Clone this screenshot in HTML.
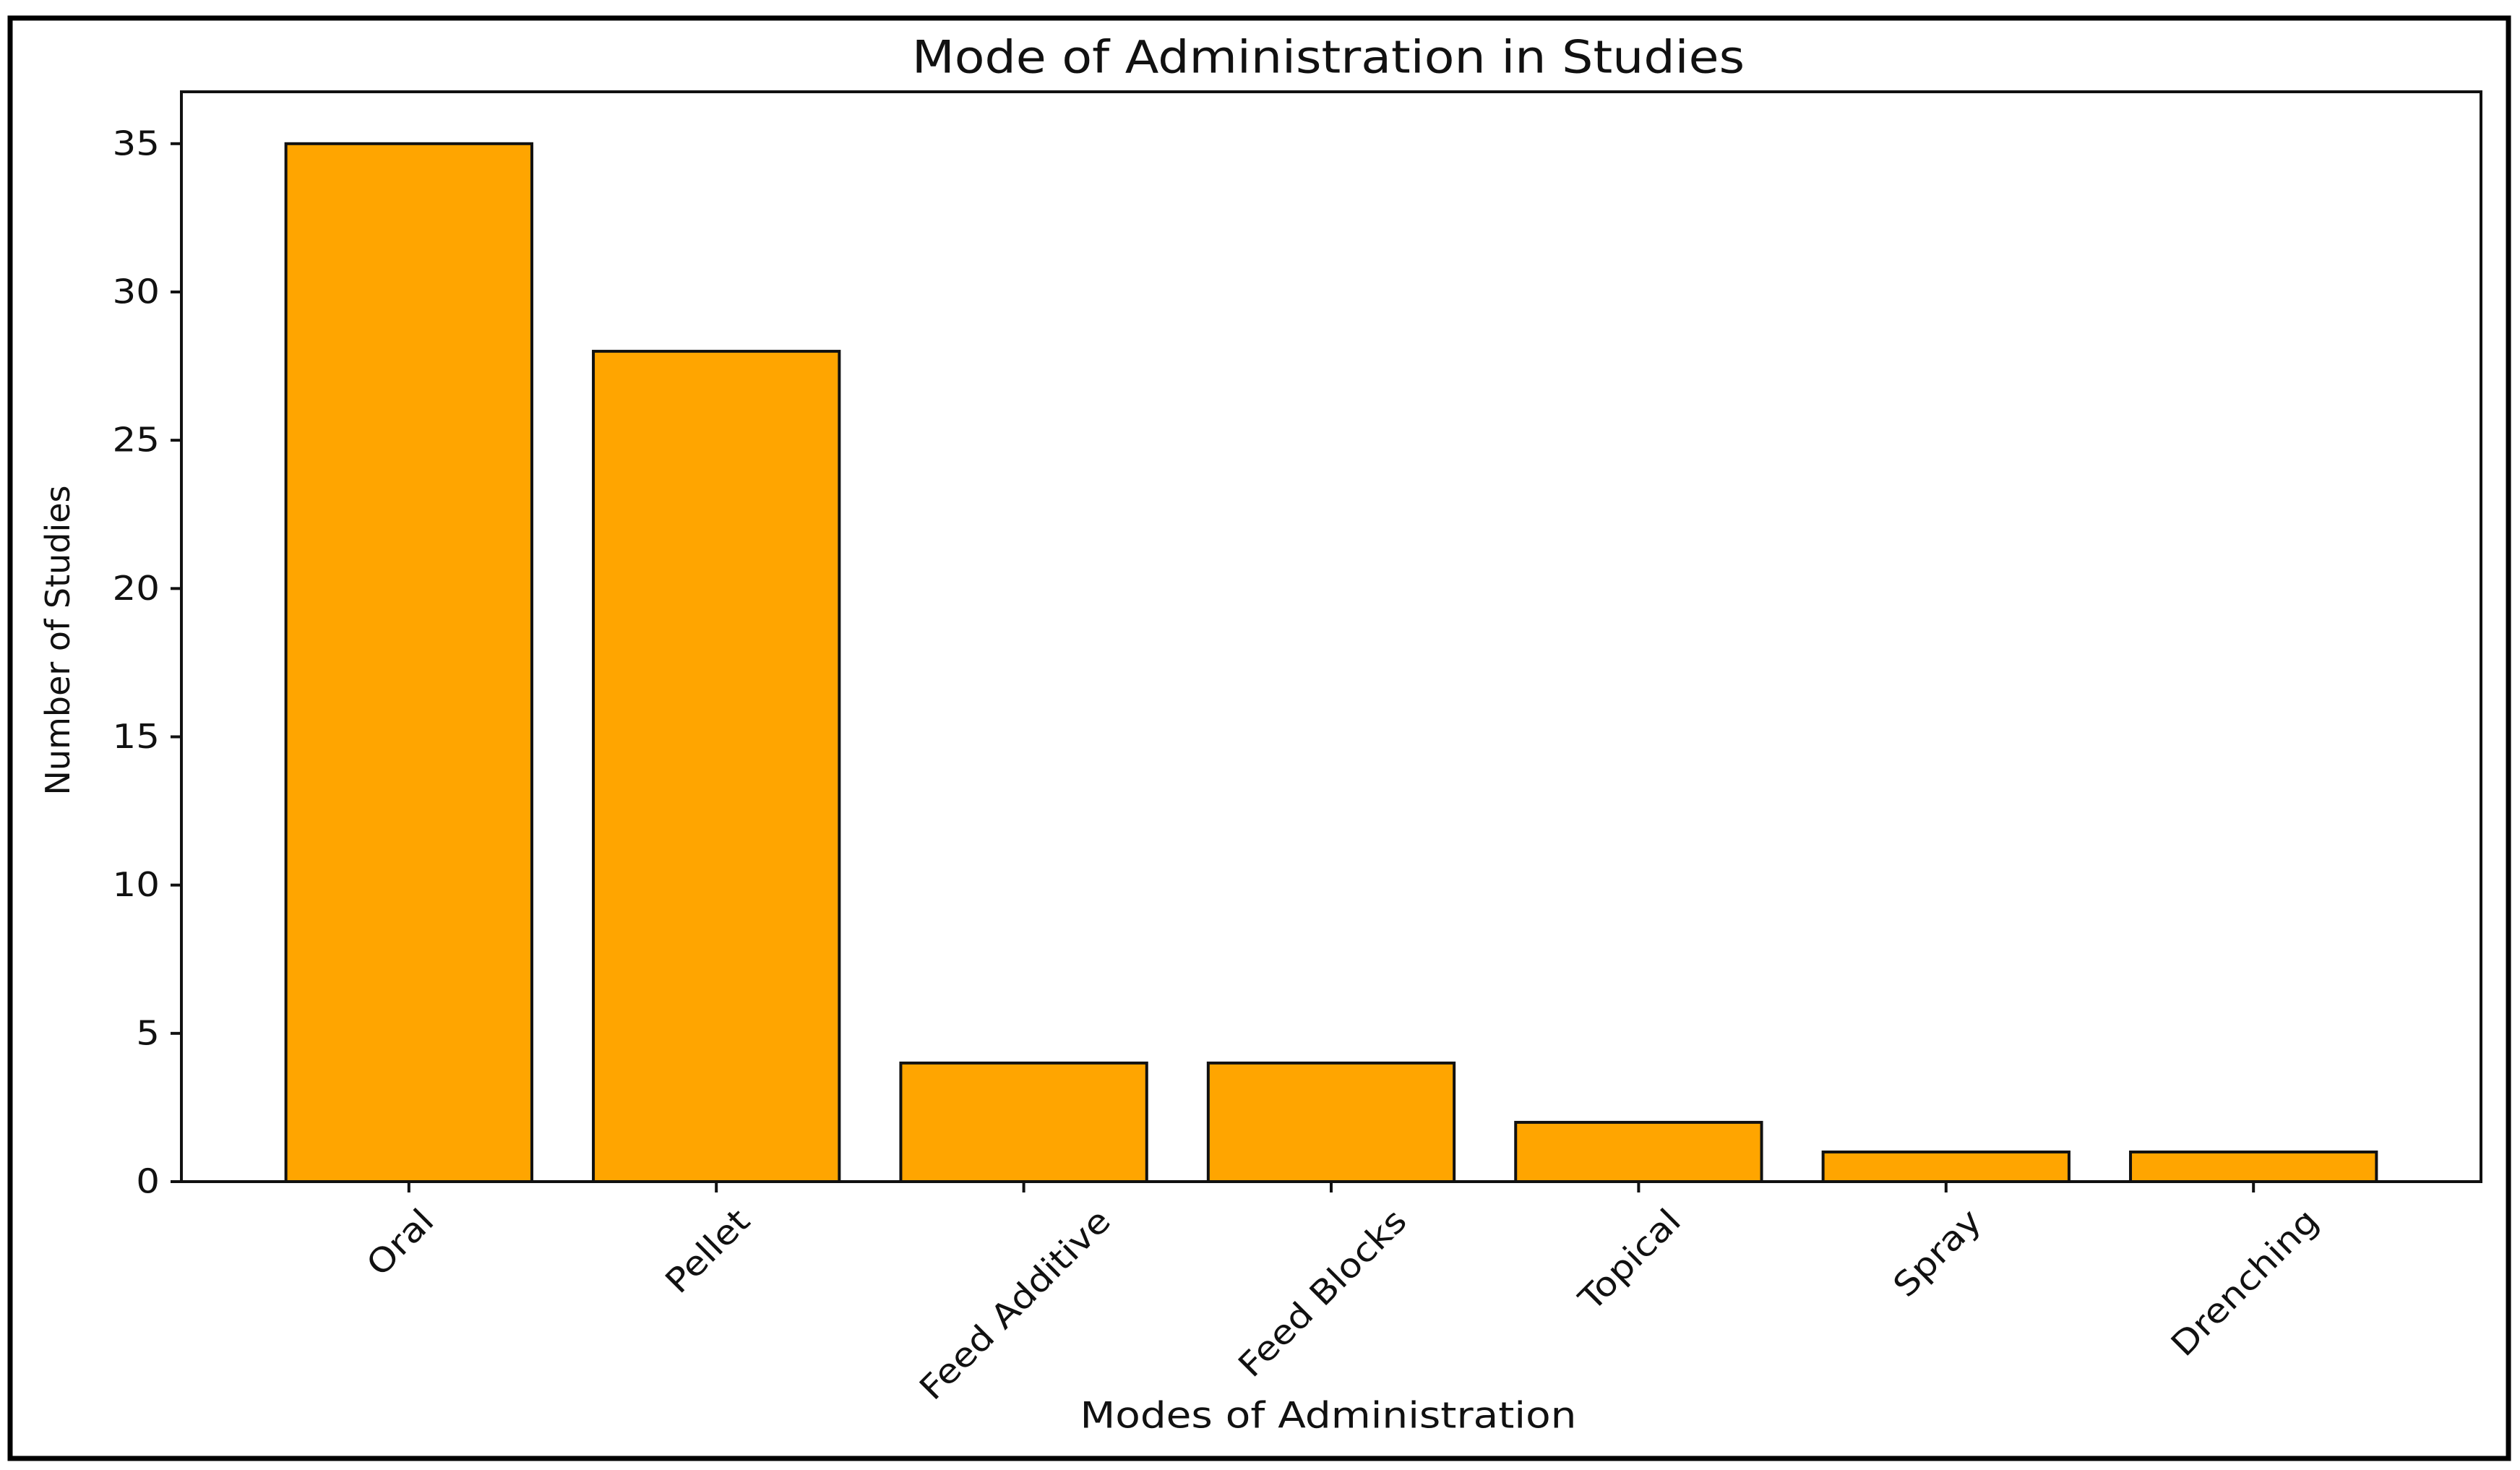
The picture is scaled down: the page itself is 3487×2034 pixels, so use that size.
<!DOCTYPE html>
<html><head><meta charset="utf-8"><style>
html,body{margin:0;padding:0;background:#fff;}
svg{display:block;font-family:"DejaVu Sans","Liberation Sans",sans-serif;}
</style></head><body>
<svg id="chart" width="3487" height="2034" viewBox="0 0 3487 2034" xmlns="http://www.w3.org/2000/svg">
<rect x="14" y="25" width="3457" height="1993" fill="#fff" stroke="#000" stroke-width="7"/>
<text transform="translate(1838,80) scale(1.1,1)" font-size="62" text-anchor="middle" dominant-baseline="central" fill="#111">Mode of Administration in Studies</text>
<text transform="translate(80,886) rotate(-90)" font-size="46" text-anchor="middle" dominant-baseline="central" fill="#111">Number of Studies</text>
<text transform="translate(1838,1958) scale(1.13,1)" font-size="50" text-anchor="middle" dominant-baseline="central" fill="#111">Modes of Administration</text>
<g id="plot"></g>
</svg>
<script>
const categories = ["Oral","Pellet","Feed Additive","Feed Blocks","Topical","Spray","Drenching"];
const values = [35, 28, 4, 4, 2, 1, 1];
const yTicks = [0, 5, 10, 15, 20, 25, 30, 35];

const L = 251, R = 3433, T = 127, B = 1635;
const xMin = -0.74, xMax = categories.length - 1 + 0.74;
const yMax = Math.max(...values) * 1.05;
const xs = v => L + (v - xMin) / (xMax - xMin) * (R - L);
const ys = v => B - v / yMax * (B - T);
const NS = "http://www.w3.org/2000/svg";
const g = document.getElementById('plot');
function mk(tag, attrs) { const e = document.createElementNS(NS, tag); for (const k in attrs) e.setAttribute(k, attrs[k]); g.appendChild(e); return e; }

values.forEach((v, i) => {
  const r = mk('rect', {x: xs(i - 0.4), y: ys(v), width: xs(i + 0.4) - xs(i - 0.4), height: ys(0) - ys(v), fill: '#FFA500', stroke: '#111', 'stroke-width': 4});
  
  
});

const frame = mk('rect', {x: L, y: T, width: R - L, height: B - T, fill: 'none', stroke: '#111', 'stroke-width': 4});



yTicks.forEach(t => {
  const ln = mk('line', {x1: L - 15, x2: L, y1: ys(t), y2: ys(t), stroke: '#111', 'stroke-width': 4});
  
  
  const tx = mk('text', {transform: `translate(${L - 30},${ys(t)}) scale(1.12,1)`, 'font-size': 46, 'text-anchor': 'end', 'dominant-baseline': 'central', fill: '#111'});
  tx.textContent = t;
  
  
});

categories.forEach((c, i) => {
  const ln = mk('line', {x1: xs(i), x2: xs(i), y1: B, y2: B + 15, stroke: '#111', 'stroke-width': 4});
  
  
  const tx = mk('text', {x: 0, y: 0, 'font-size': 46, 'text-anchor': 'middle', 'dominant-baseline': 'central', fill: '#111'});
  tx.textContent = c;
  
  
  const w = tx.getComputedTextLength() * 1.12;
  const h = 46;
  const half = (w + h) * Math.SQRT1_2 / 2;
  const cx = xs(i) - 12, cy = B + 30 + half;
  tx.setAttribute('transform', `translate(${cx},${cy}) rotate(-45) scale(1.12,1)`);
});
</script>
</body></html>
